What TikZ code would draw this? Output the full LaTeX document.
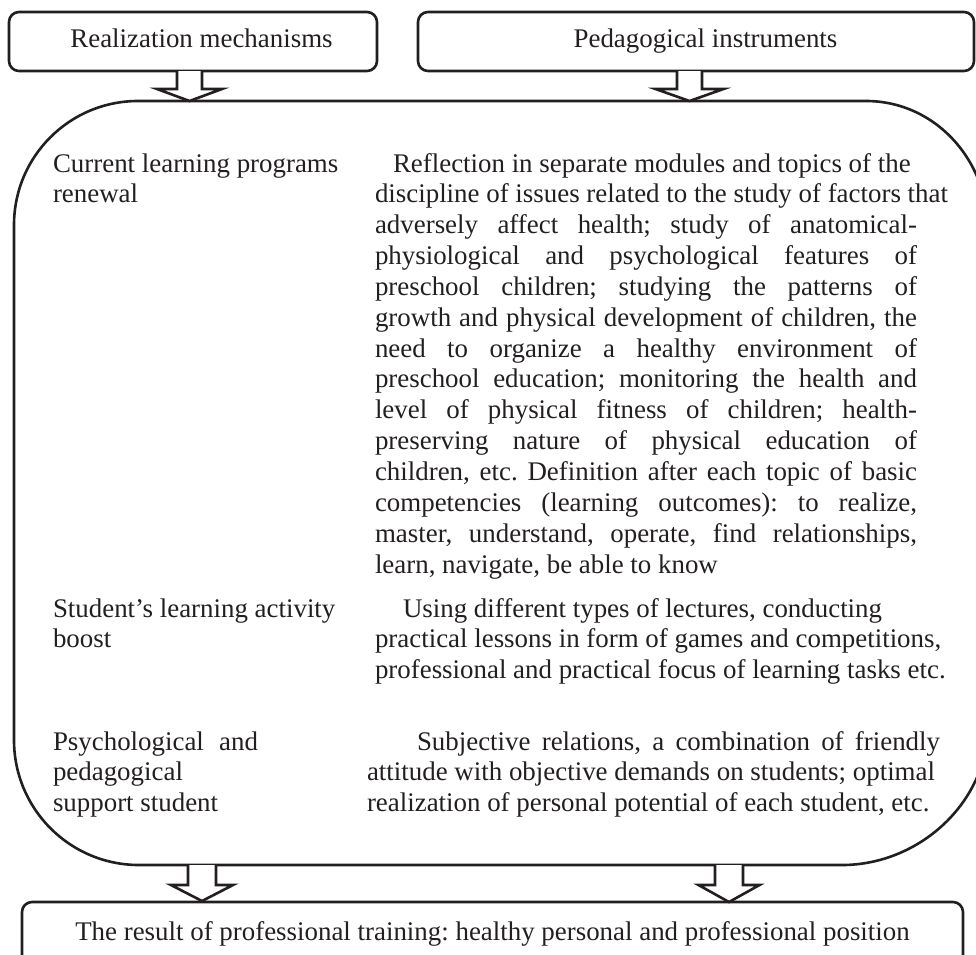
\documentclass[tikz,border=0pt]{standalone}
\usepackage{fontspec}
\setmainfont{Liberation Serif}
\frenchspacing
\definecolor{ink}{HTML}{231F20}
% one justified line of a given width
\newcommand\fillline[2]{\makebox[#1][s]{#2}}
\begin{document}
\begin{tikzpicture}[x=1pt,y=-1pt,
  every node/.style={inner sep=0pt, outer sep=0pt, text=ink,
    font=\fontsize{26.9pt}{30.85pt}\selectfont},
  framebox/.style={draw=ink, line width=2.6pt, rounded corners=10pt,
    text height=18pt, text depth=6pt, align=center},
  txt/.style={anchor=base west},
  outline/.style={draw=ink, line width=2.6pt},
  arrowline/.style={draw=ink, fill=white, line width=2.6pt, line join=miter},
  pics/downarrow/.style args={#1/#2/#3/#4}{code={
    \path[arrowline] (-#1,0) -- (-#1,#3) -- (-#2,#3) -- (0,#4)
      -- (#2,#3) -- (#1,#3) -- (#1,0);
  }}
]
\useasboundingbox (0,0) rectangle (976,954);
\clip (0,0) rectangle (976,954);

% header boxes
\node[framebox, minimum width=368, minimum height=59] (mech) at (193,41.5)
  {\hspace*{17pt}Realization mechanisms};
\node[framebox, minimum width=556, minimum height=59] (instr) at (696,41.5)
  {\hspace*{19pt}Pedagogical instruments};

% the large rounded frame holding the content
\coordinate (bodyN) at (500,101);
\path[outline] (138,101) -- (866,101)
  .. controls (935,101) and (988,160) .. (988,230)
  -- (988,725)
  .. controls (988,802.32) and (919.32,865) .. (842,865)
  -- (139,865)
  .. controls (69.96,865) and (14,809.04) .. (14,740)
  -- (14,225)
  .. controls (14,156.51) and (69.51,101) .. (138,101) -- cycle;

% result box
\node[framebox, minimum width=941, minimum height=76, text depth=18pt]
  (result) at (492.5,940)
  {The result of professional training: healthy personal and professional position};

% block arrows between the parts
\coordinate (a1) at (mech.south -| 189.5,0);
\coordinate (a2) at (instr.south -| 689.5,0);
\pic at (a1) {downarrow={12.5/32.5/18/30}};
\pic at (a2) {downarrow={12.5/34/18/30}};
\coordinate (b1) at (202,865);
\coordinate (b2) at (729,865);
\pic at (b1) {downarrow={14/31/20/36}};
\pic at (b2) {downarrow={14/30.5/20/37}};

% left column: mechanisms
\node[txt] (m1) at (53,172) {\vtop{\hbox{Current learning programs}\hbox{renewal}}};
\node[txt] (m2) at (53,617) {\vtop{\hbox{Student’s learning activity}\hbox{boost}}};
\node[txt] (m3) at (53,750) {\vtop{\hbox{\fillline{205pt}{Psychological and}}%
  \hbox{pedagogical}\hbox{support student}}};

% right column: instruments
\node[txt] (i1) at (375,172) {\vtop{%
  \hbox{\hspace*{18pt}Reflection in separate modules and topics of the}
  \hbox{discipline of issues related to the study of factors that}
  \hbox{\fillline{542pt}{adversely affect health; study of anatomical-}}
  \hbox{\fillline{542pt}{physiological and psychological features of}}
  \hbox{\fillline{542pt}{preschool children; studying the patterns of}}
  \hbox{\fillline{542pt}{growth and physical development of children, the}}
  \hbox{\fillline{542pt}{need to organize a healthy environment of}}
  \hbox{\fillline{542pt}{preschool education; monitoring the health and}}
  \hbox{\fillline{542pt}{level of physical fitness of children; health-}}
  \hbox{\fillline{542pt}{preserving nature of physical education of}}
  \hbox{\fillline{542pt}{children, etc. Definition after each topic of basic}}
  \hbox{\fillline{542pt}{competencies (learning outcomes): to realize,}}
  \hbox{\fillline{542pt}{master, understand, operate, find relationships,}}
  \hbox{learn, navigate, be able to know}}};
\node[txt] (i2) at (375,617) {\vtop{%
  \hbox{\hspace*{28pt}Using different types of lectures, conducting}
  \hbox{practical lessons in form of games and competitions,}
  \hbox{professional and practical focus of learning tasks etc.}}};
\node[txt] (i3) at (367,750) {\vtop{%
  \hbox{\hspace*{50pt}\fillline{523pt}{Subjective relations, a combination of friendly}}
  \hbox{\fillline{568pt}{attitude with objective demands on students; optimal}}
  \hbox{realization of personal potential of each student, etc.}}};
\end{tikzpicture}
\end{document}
